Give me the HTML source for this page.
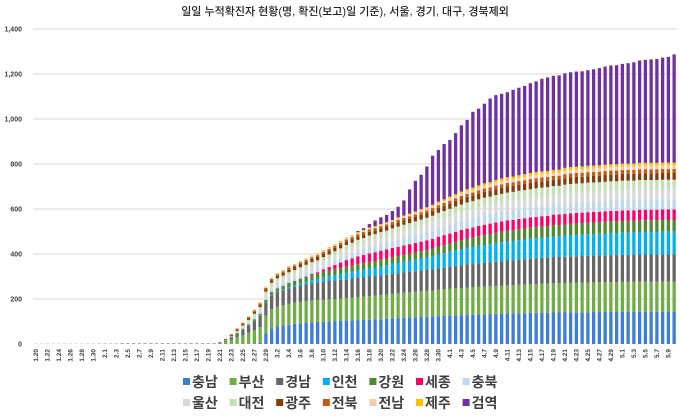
<!DOCTYPE html>
<html><head><meta charset="utf-8">
<style>
html,body{margin:0;padding:0;background:#fff;}
body{width:680px;height:412px;overflow:hidden;font-family:"Liberation Sans","Noto Sans CJK KR",sans-serif;}
svg text{font-family:"Liberation Sans","Noto Sans CJK KR",sans-serif;}
</style></head>
<body>
<svg id="chart" width="680" height="412" viewBox="0 0 680 412" xmlns="http://www.w3.org/2000/svg">
<text x="345" y="15" text-anchor="middle" font-size="11" font-weight="500" fill="#222">일일 누적확진자 현황(명, 확진(보고)일 기준), 서울, 경기, 대구, 경북제외</text>
<g id="grid"></g><g id="bars"></g><g id="xlabels"></g><g id="legend"></g>
</svg>
<script>
const yTicks=[0,200,400,600,800,1000,1200,1400];
const yTickLabels=["0","200","400","600","800","1,000","1,200","1,400"];
const seriesNames=["충남","부산","경남","인천","강원","세종","충북","울산","대전","광주","전북","전남","제주","검역"];
const seriesColors=["#3b7dd8","#70ad47","#666666","#00b0f0","#4e8a2f","#ff0066","#bdd7ee","#d9d9d9","#c5e0b4","#843c0c","#c55a11","#f8cbad","#ffc000","#7030a0"];
const Z32=[0,0,0,0,0,0,0,0,0,0,0,0,0,0,0,0,0,0,0,0,0,0,0,0,0,0,0,0,0,0,0,0];
const chungnam=Z32.concat([0,0,0,0,0,0,2,5,47,70,78,82,86,90,92,95,97,98,99,101,102,103,104,105,106,107,108,109,110,112,114,115,117,118,119,120,121,122,124,125,126,127,128,129,130,131,132,133,134,135,136,136,137,137,138,138,139,139,140,140,140,141,141,141,141,142,142,142,142,142,143,143,143,143,143,143,143,143,143,143]);
const busan=Z32.concat([3,10,20,30,40,50,60,70,80,85,88,90,92,93,95,96,96,97,97,98,98,99,100,101,103,104,105,106,107,108,109,110,111,112,113,114,115,116,117,118,119,120,121,122,122,123,123,124,124,125,126,126,127,127,128,128,129,129,130,130,131,131,131,132,132,132,132,133,133,133,133,133,133,134,134,134,134,134,134,134]);
const gyeongnam=Z32.concat([2,5,10,16,22,30,40,50,58,62,65,67,69,71,73,75,77,78,80,81,82,83,84,85,86,86,87,87,88,88,89,89,90,90,91,92,93,94,95,96,97,99,101,102,103,104,105,106,107,108,109,110,111,112,113,114,115,115,116,117,117,118,118,118,119,119,119,119,120,120,120,120,120,121,121,121,121,121,121,121]);
const incheon=[1,1,1,1,1,1,1,1,1,1,1,1,1,1,1,1,1,1,1,1,1,1,1,1,1,1,1,1,1,1,1,1].concat([1,1,1,1,1,1,1,1,1,2,3,4,6,8,10,12,14,16,20,22,24,26,28,30,32,34,36,38,40,42,44,46,48,50,52,54,56,58,62,65,68,70,72,74,76,78,80,81,82,84,85,86,87,88,89,90,90,91,92,92,93,94,95,95,96,96,97,97,98,98,99,99,99,100,100,100,100,101,101,101]);
const gangwon=Z32.concat([0,1,2,3,5,6,7,8,10,12,14,16,18,19,20,21,22,23,25,25,26,26,27,27,28,28,29,29,30,30,30,31,31,32,32,33,33,34,35,36,37,38,40,41,42,43,44,45,47,47,48,48,48,49,49,49,49,50,50,50,50,50,51,51,51,51,51,52,52,52,52,52,52,52,52,52,52,52,52,52]);
const sejong=Z32.concat([0,0,0,0,0,0,0,0,0,0,0,0,0,0,1,2,5,7,10,15,20,25,30,33,35,37,38,39,40,40,41,41,41,42,42,42,43,43,44,44,44,45,45,45,45,46,46,46,46,46,46,46,46,46,46,46,46,46,47,47,47,47,47,47,47,47,47,47,47,47,47,47,47,47,47,47,47,47,47,47]);
const chungbuk=Z32.concat([0,1,1,2,3,4,5,6,8,9,10,10,11,11,11,12,12,12,12,13,15,18,20,22,24,26,28,29,30,31,32,33,33,34,35,35,36,37,38,38,39,40,40,41,42,42,43,43,44,44,44,44,45,45,45,45,45,45,45,45,46,46,46,46,46,46,46,46,46,46,46,46,46,46,46,46,46,46,46,46]);
const ulsan=Z32.concat([0,0,2,4,7,10,12,14,17,19,20,21,22,22,23,23,24,24,25,25,26,26,27,27,28,28,29,29,30,30,31,32,33,33,34,35,36,37,38,38,39,39,39,40,40,40,40,40,40,40,41,41,41,41,41,42,42,42,42,42,43,43,43,43,43,43,43,43,43,43,43,43,43,43,43,43,43,43,43,43]);
const daejeon=Z32.concat([0,0,0,2,4,6,8,10,12,13,14,14,15,15,16,16,17,17,18,18,19,19,20,20,21,21,22,22,22,23,24,25,26,26,27,28,28,29,30,31,32,33,34,35,35,36,37,37,38,38,38,39,39,39,39,40,40,40,40,40,41,41,41,41,42,42,42,42,42,42,43,43,43,43,43,43,43,43,43,43]);
const gwangju=[0,0,0,0,0,0,0,0,0,0,0,0,0,0,0,1,1,1,1,1,1,1,1,1,1,1,1,1,1,1,1,1].concat([2,3,4,5,6,7,8,9,9,10,11,12,13,13,14,14,14,15,15,15,15,16,16,16,16,17,17,17,17,18,18,19,19,20,20,21,21,22,22,23,23,24,24,25,25,25,26,26,26,27,27,27,27,27,28,28,28,28,28,28,29,29,29,29,29,29,29,30,30,30,30,30,30,30,30,30,30,30,30,30]);
const jeonbuk=[0,0,0,0,0,0,0,0,0,0,0,1,1,1,1,1,1,1,1,1,1,1,1,1,1,1,1,1,1,1,1,1].concat([1,2,3,5,5,6,6,7,7,7,7,7,8,8,8,8,8,8,9,9,9,9,9,9,9,10,10,10,10,10,10,11,11,11,11,12,12,12,12,13,13,13,14,14,14,15,15,15,16,16,16,16,16,17,17,17,17,17,17,17,18,18,18,18,18,18,18,18,18,18,18,18,18,18,18,18,18,18,18,18]);
const jeonnam=Z32.concat([0,0,0,1,1,1,2,2,3,3,3,3,3,3,4,4,4,4,4,4,4,4,5,5,5,5,5,5,5,5,5,6,6,6,7,7,7,8,8,8,9,9,10,10,11,11,12,12,13,13,13,13,14,14,14,14,14,14,14,14,15,15,15,15,15,15,15,15,15,15,15,15,15,15,15,15,15,15,15,15]);
const jeju=Z32.concat([0,0,1,2,2,2,2,3,3,3,3,3,3,3,3,3,3,4,4,4,4,4,4,4,4,4,4,4,4,4,4,5,5,6,6,7,7,7,8,8,9,9,10,10,10,11,11,11,12,12,12,12,12,13,13,13,13,13,13,13,13,13,13,13,13,13,13,13,13,13,13,13,13,13,13,13,13,13,13,13]);
const quarantine=Z32.concat([0,0,0,0,0,0,0,0,0,0,0,0,0,0,0,0,0,0,0,0,0,0,0,0,5,8,15,25,30,33,40,47,67,107,136,152,181,218,229,246,252,271,294,308,337,341,354,372,377,377,378,386,389,392,399,403,412,416,418,419,420,422,423,423,425,428,432,436,439,440,443,446,450,455,458,460,462,467,470,481]);
const seriesValues=[chungnam,busan,gyeongnam,incheon,gangwon,sejong,chungbuk,ulsan,daejeon,gwangju,jeonbuk,jeonnam,jeju,quarantine];
const monthDays=[[1,20,31],[2,1,29],[3,1,31],[4,1,30],[5,1,10]];
const categories=[];
monthDays.forEach(function(m){for(let d=m[1];d<=m[2];d++)categories.push(m[0]+"."+d);});

const NS="http://www.w3.org/2000/svg";
const X0=33,X1=677,Y0=344,Y1=29,YMAX=1400;
function yScale(v){return Y0-(v/YMAX)*(Y0-Y1);}
const step=(X1-X0)/categories.length;
function xScale(i){return X0+step*(i+0.5);}
const bw=3.3;
function mk(tag,attrs,parent){const e=document.createElementNS(NS,tag);for(const k in attrs)e.setAttribute(k,attrs[k]);parent.appendChild(e);return e;}

const grid=document.getElementById('grid');
yTicks.forEach(function(t,i){
  if(t>0){const l=mk('line',{x1:X0,x2:X1,y1:yScale(t),y2:yScale(t),stroke:'#d9d9d9','stroke-width':1},grid);
  
  }
  const tx=mk('text',{x:22,y:yScale(t)+2.5,'text-anchor':'end','font-size':7,'font-weight':'bold',fill:'#404040'},grid);
  tx.textContent=yTickLabels[i];
  
  
});

const bars=document.getElementById('bars');
categories.forEach(function(c,i){
  let acc=0;
  seriesValues.forEach(function(arr,s){
    const v=arr[i]||0;
    if(v<=0)return;
    const y0=yScale(acc),y1=yScale(acc+v);
    const r=mk('rect',{x:xScale(i)-bw/2,y:y1,width:bw,height:y0-y1,fill:seriesColors[s]},bars);
    
    
    acc+=v;
  });
});

const xl=document.getElementById('xlabels');
categories.forEach(function(c,i){
  if(i%2!==0)return;
  const x=xScale(i)+2,y=349;
  const t=mk('text',{x:x,y:y,'text-anchor':'end','font-size':6.5,'font-weight':'bold',fill:'#404040',transform:'rotate(-90 '+x+' '+y+')'},xl);
  t.textContent=c;
  
  
});

const lg=document.getElementById('legend');
seriesNames.forEach(function(n,i){
  const row=Math.floor(i/7),col=i%7;
  const x=183+col*46.6,y=row===0?382:403;
  const g=mk('g',{},lg);
  
  
  mk('rect',{x:x,y:y-4,width:7,height:7,fill:seriesColors[i]},g);
  const t=mk('text',{x:x+9,y:y+5,'font-size':14,'font-weight':'bold',fill:'#404040'},g);
  t.textContent=n;
});
</script>
</body></html>
